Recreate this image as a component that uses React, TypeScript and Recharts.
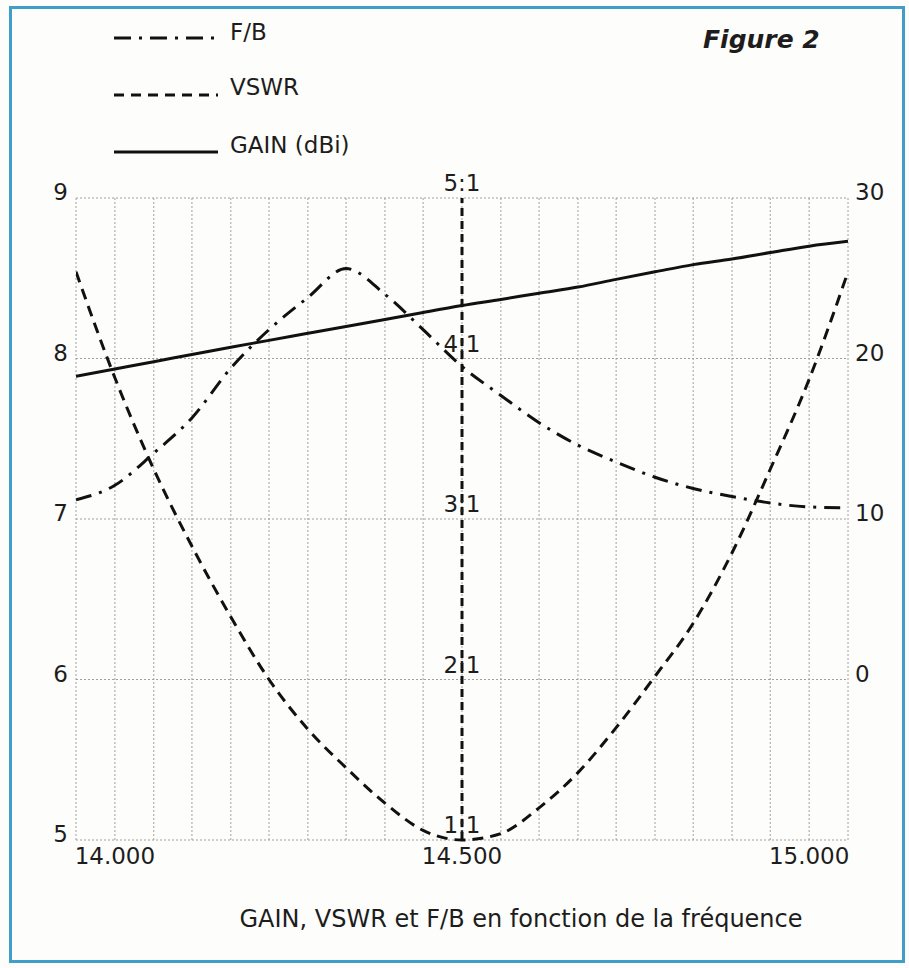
import React from "react"
import {
  LineChart,
  Line,
  XAxis,
  YAxis,
  CartesianGrid,
  ReferenceLine,
  ReferenceDot,
  Legend,
} from "recharts"

// frequency (MHz) at every vertical grid line
const frequencies = [
  13.944, 14.0, 14.056, 14.111, 14.167, 14.222, 14.278, 14.333, 14.389, 14.444, 14.5,
  14.556, 14.611, 14.667, 14.722, 14.778, 14.833, 14.889, 14.944, 15.0, 15.056,
]
// gain in dBi (left axis)
const gainValues = [
  7.89, 7.935, 7.98, 8.025, 8.07, 8.113, 8.157, 8.2, 8.243, 8.287, 8.33,
  8.368, 8.407, 8.445, 8.493, 8.54, 8.585, 8.62, 8.66, 8.7, 8.73,
]
// VSWR (x:1), read on the central scale
const vswrValues = [
  4.54, 3.88, 3.31, 2.83, 2.39, 2.0, 1.69, 1.45, 1.23, 1.06, 1.0,
  1.04, 1.2, 1.42, 1.7, 2.02, 2.35, 2.79, 3.31, 3.87, 4.54,
]
// front/back ratio in dB (right axis)
const fbValues = [
  11.2, 12.1, 14.1, 16.3, 19.4, 21.8, 23.8, 25.6, 24.0, 21.8, 19.5,
  17.7, 16.0, 14.6, 13.55, 12.6, 11.9, 11.4, 11.0, 10.75, 10.7,
]

const freqLabels = [14.0, 14.5, 15.0]
const gainTicks = [5, 6, 7, 8, 9]
const fbTicks = [0, 10, 20, 30]
const vswrTicks = [1, 2, 3, 4, 5]

const chartData = frequencies.map((freq, i) => ({
  freq,
  gain: gainValues[i],
  vswr: vswrValues[i],
  fb: fbValues[i],
}))

const FONT = "'DejaVu Sans', sans-serif"
const INK = "#1d1d1d"

const legendItems = [
  { label: "F/B", dash: "17 8 3 8", y: 38, textY: 40 },
  { label: "VSWR", dash: "10 7", y: 95, textY: 95 },
  { label: "GAIN (dBi)", dash: undefined, y: 152, textY: 153 },
]

function SideTick({ x, y, payload, anchor }: any) {
  return (
    <text x={x} y={y - 6} dy="0.36em" textAnchor={anchor} fontFamily={FONT} fontSize={23} fill={INK}>
      {payload.value}
    </text>
  )
}

function FreqTick({ x, y, payload }: any) {
  const shown = freqLabels.some((f) => Math.abs(f - payload.value) < 1e-6)
  if (!shown) return null
  return (
    <text x={x} y={y} dy="0.71em" textAnchor="middle" fontFamily={FONT} fontSize={23} fill={INK}>
      {payload.value.toFixed(3)}
    </text>
  )
}

function AxisTitle({ viewBox }: any) {
  return (
    <text
      x={viewBox.x + viewBox.width / 2 + 59}
      y={viewBox.y + 87}
      textAnchor="middle"
      fontFamily={FONT}
      fontSize={24}
      fill={INK}
    >
      GAIN, VSWR et F/B en fonction de la fréquence
    </text>
  )
}

function ChartLegend() {
  return (
    <svg width={420} height={175}>
      {legendItems.map((item) => (
        <g key={item.label}>
          <line
            x1={114}
            x2={218}
            y1={item.y}
            y2={item.y}
            stroke="#111"
            strokeWidth={3}
            strokeDasharray={item.dash}
          />
          <text x={230} y={item.textY} fontFamily={FONT} fontSize={23} fill={INK}>
            {item.label}
          </text>
        </g>
      ))}
    </svg>
  )
}

export default function App() {
  return (
    <div style={{ position: "relative", width: 909, height: 968, background: "#fdfdfb" }}>
      <style>{"body{margin:0}"}</style>
      <LineChart
        width={909}
        height={968}
        data={chartData}
        margin={{ top: 198, right: 0, bottom: 0, left: 0 }}
      >
        <CartesianGrid stroke="#a0a0a0" strokeDasharray="2 2" />
        <XAxis
          dataKey="freq"
          type="number"
          domain={[13.944, 15.056]}
          ticks={frequencies}
          interval={0}
          allowDataOverflow
          axisLine={false}
          tickLine={false}
          tickSize={0}
          tickMargin={8}
          height={128}
          tick={<FreqTick />}
          label={{ content: (props: any) => <AxisTitle {...props} /> }}
        />
        <YAxis
          domain={[5, 9]}
          ticks={gainTicks}
          width={76}
          axisLine={false}
          tickLine={false}
          tickSize={0}
          tickMargin={8}
          tick={(p: any) => <SideTick {...p} anchor="end" />}
        />
        <YAxis
          yAxisId="fb"
          orientation="right"
          domain={[-10, 30]}
          ticks={fbTicks}
          width={61}
          axisLine={false}
          tickLine={false}
          tickSize={0}
          tickMargin={7}
          tick={(p: any) => <SideTick {...p} anchor="start" />}
        />
        <YAxis yAxisId="vswr" domain={[1, 5]} hide />
        <Legend
          layout="horizontal"
          verticalAlign="middle"
          align="center"
          wrapperStyle={{ top: 0, left: 0, width: 420, height: 175 }}
          content={() => <ChartLegend />}
        />
        <ReferenceLine x={14.5} stroke="#111" strokeWidth={3} strokeDasharray="8 5" />
        <Line
          yAxisId="fb"
          type="monotone"
          dataKey="fb"
          stroke="#111"
          strokeWidth={3}
          strokeDasharray="16 8 3 8"
          dot={false}
          activeDot={false}
          isAnimationActive={false}
        />
        <Line
          yAxisId="vswr"
          type="monotone"
          dataKey="vswr"
          stroke="#111"
          strokeWidth={3}
          strokeDasharray="11 7"
          dot={false}
          activeDot={false}
          isAnimationActive={false}
        />
        <Line
          type="monotone"
          dataKey="gain"
          stroke="#111"
          strokeWidth={3}
          dot={false}
          activeDot={false}
          isAnimationActive={false}
        />
        {vswrTicks.map((v) => (
          <ReferenceDot
            key={v}
            yAxisId="vswr"
            x={14.5}
            y={v}
            r={0}
            fill="none"
            stroke="none"
            label={{ value: `${v}:1`, position: "top", offset: 7, fontSize: 23, fontFamily: FONT, fill: INK }}
          />
        ))}
      </LineChart>
      <div
        style={{
          position: "absolute",
          left: 703,
          top: 25,
          fontFamily: FONT,
          fontSize: 25,
          fontWeight: "bold",
          fontStyle: "italic",
          color: INK,
        }}
      >
        Figure 2
      </div>
      <div
        style={{
          position: "absolute",
          left: 9,
          top: 6,
          width: 896,
          height: 957,
          boxSizing: "border-box",
          border: "3px solid #3f9fc8",
          pointerEvents: "none",
        }}
      />
    </div>
  )
}
